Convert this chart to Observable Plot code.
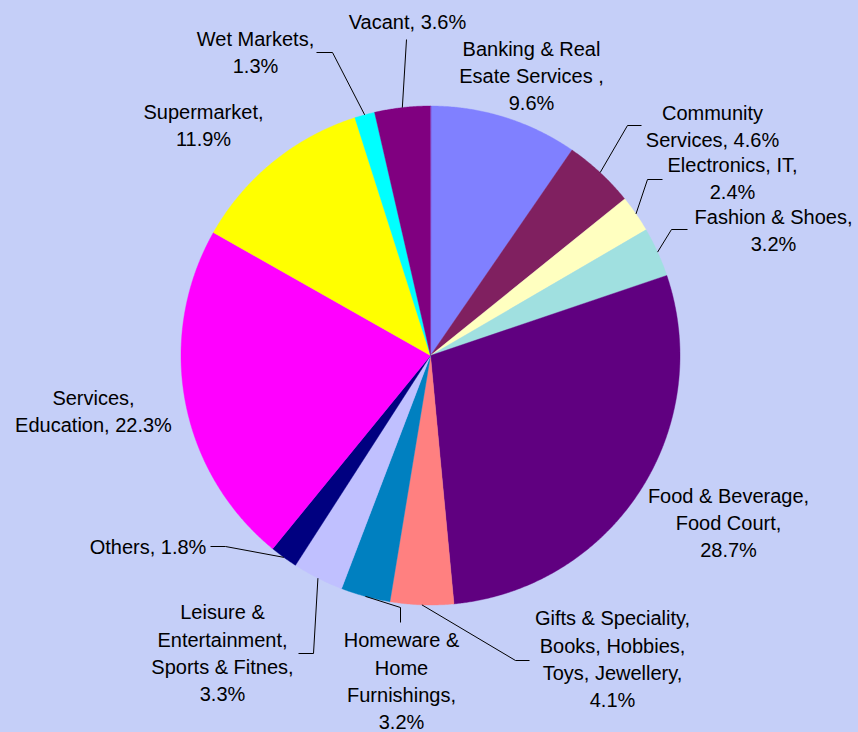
<!DOCTYPE html>
<html><head><meta charset="utf-8">
<script src="https://cdn.jsdelivr.net/npm/d3@7"></script>
<script src="https://cdn.jsdelivr.net/npm/@observablehq/plot@0.6"></script>
<style>
html,body{margin:0;padding:0;background:#C5CFF8;overflow:hidden;}
#chart svg{display:block;}
</style></head><body><div id="chart"></div>
<script>
// ---- data ----
const categories = [
  "Banking & Real Esate Services", "Community Services", "Electronics, IT", "Fashion & Shoes",
  "Food & Beverage, Food Court", "Gifts & Speciality, Books, Hobbies, Toys, Jewellery",
  "Homeware & Home Furnishings", "Leisure & Entertainment, Sports & Fitnes", "Others",
  "Services, Education", "Supermarket", "Wet Markets", "Vacant"
];
const values = [9.6, 4.6, 2.4, 3.2, 28.7, 4.1, 3.2, 3.3, 1.8, 22.3, 11.9, 1.3, 3.6];
const colors = ["#8080FF", "#802060", "#FFFFC0", "#A0E0E0", "#600080", "#FF8080",
  "#0080C0", "#C0C0FF", "#000080", "#FF00FF", "#FFFF00", "#00FFFF", "#800080"];
// label text as wrapped in the chart (name part, separator before the percentage)
const labelNames = [
  "Banking & Real\nEsate Services ,", "Community\nServices,", "Electronics, IT,", "Fashion & Shoes,",
  "Food & Beverage,\nFood Court,", "Gifts & Speciality,\nBooks, Hobbies,\nToys, Jewellery,",
  "Homeware &\nHome\nFurnishings,", "Leisure &\nEntertainment,\nSports & Fitnes,", "Others,",
  "Services,\nEducation,", "Supermarket,", "Wet Markets,", "Vacant,"
];
const labelSep = ["\n", " ", "\n", "\n", "\n", "\n", "\n", "\n", " ", " ", "\n", "\n", " "];

// ---- layout ----
const W = 858, H = 732, CX = 430, CY = 355, R = 249.5;
const labelAt = [[531,74],[712,124],[732,176],[773,228],[728,521],[612,657],[401,679],[222,651],[147.5,545],[93,409],[203,123],[255,50],[407,20]];
// leader lines: intermediate and end points (null = no leader)
const leaderPts = [null, [[627,125],[641,125]], [[647,179],[662,179]], [[671,229],[687,229]], null,
  [[515,660],[529,660]], [[400,607],[400,622]], [[313,653],[298,653]], [[225,546],[210,546]],
  null, null, [[332,52],[316,52]], [[406,39]]];

const arcs = d3.pie().sort(null).startAngle(0).endAngle(2 * Math.PI)(values);
const px = a => CX + R * Math.sin(a), py = a => CY - R * Math.cos(a);

const slicePts = [];
arcs.forEach((a, i) => {
  const name = categories[i];
  slicePts.push({name, x: CX, y: CY});
  const n = Math.max(2, Math.ceil((a.endAngle - a.startAngle) / 0.005));
  for (let k = 0; k <= n; k++) {
    const t = a.startAngle + (a.endAngle - a.startAngle) * k / n;
    slicePts.push({name, x: px(t), y: py(t)});
  }
});

const labelData = arcs.map((a, i) => ({
  name: categories[i],
  x: labelAt[i][0], y: labelAt[i][1],
  text: labelNames[i] + labelSep[i] + values[i].toFixed(1) + "%"
}));

const leaderData = [];
arcs.forEach((a, i) => {
  if (!leaderPts[i]) return;
  const m = (a.startAngle + a.endAngle) / 2;
  leaderData.push({name: categories[i], x: px(m), y: py(m)});
  leaderPts[i].forEach(p => leaderData.push({name: categories[i], x: p[0], y: p[1]}));
});

const chart = Plot.plot({
  width: W, height: H,
  margin: 0,
  x: {domain: [0, W], range: [0, W], axis: null},
  y: {domain: [0, H], range: [0, H], axis: null},
  color: {domain: categories, range: colors},
  style: {background: "#C5CFF8", fontFamily: "'Liberation Sans', Arial, sans-serif"},
  marks: [
    Plot.line(slicePts, {x: "x", y: "y", z: "name", fill: "name", stroke: "name", strokeWidth: 0.4, curve: "linear-closed"}),
    Plot.line(leaderData, {x: "x", y: "y", z: "name", stroke: "black", strokeWidth: 1, strokeLinecap: "butt"}),
    Plot.text(labelData, {x: "x", y: "y", text: "text", fontSize: 20, lineHeight: 1.36, fill: "black",
      fontFamily: "'Liberation Sans', Arial, sans-serif"})
  ]
});
document.getElementById("chart").appendChild(chart);
</script>
</body></html>
